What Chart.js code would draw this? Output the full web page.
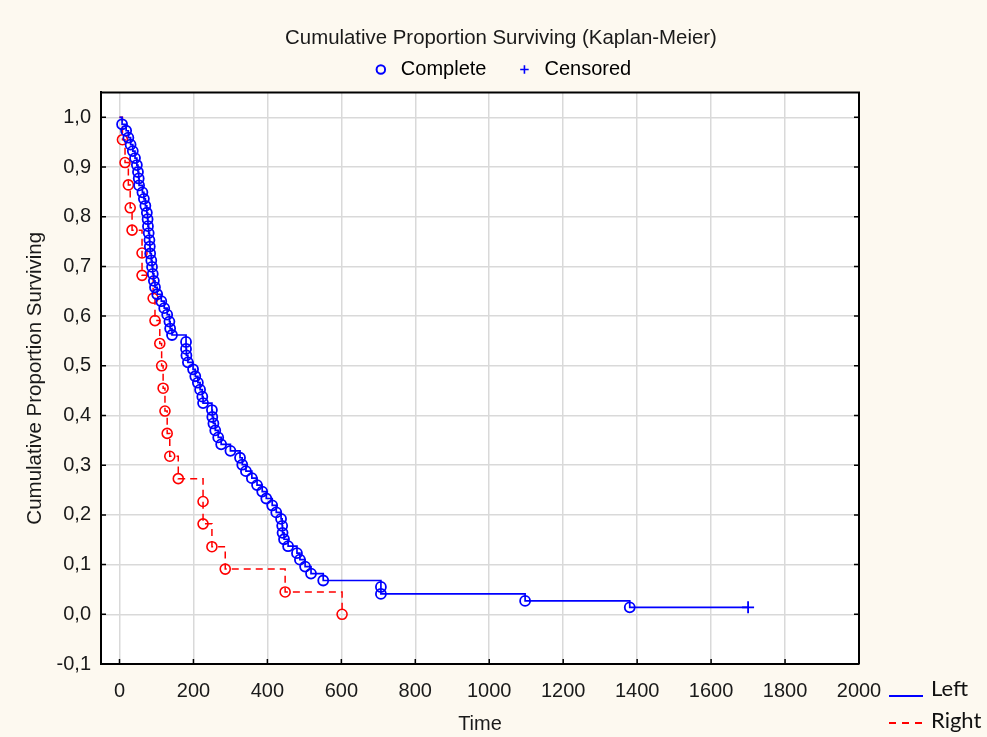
<!DOCTYPE html>
<html>
<head>
<meta charset="utf-8">
<title>Kaplan-Meier</title>
<script src="https://cdn.jsdelivr.net/npm/chart.js@4.4.1/dist/chart.umd.min.js"></script>
<style>
  html, body { margin: 0; padding: 0; background: #fdf9f0; }
</style>
</head>
<body>
<canvas id="km-chart" width="987" height="737"></canvas>
<script>
// survival times (first entry = start of the curve)
var leftTimes = [0, 7, 18, 24, 30, 36, 42, 47, 50, 52, 53, 62, 66, 70, 74, 76, 77, 79, 81, 82, 83,
  86, 88, 90, 93, 96, 102, 113, 121, 129, 135, 137, 142, 180, 180, 181, 185, 199, 205, 212, 218,
  224, 226, 250, 251, 254, 259, 267, 275, 300, 326, 332, 342, 358, 372, 386, 397, 413, 424, 437,
  440, 441, 445, 456, 480, 488, 502, 518, 551, 707, 707, 1097, 1380];
var leftSurv = [1.000, 0.986, 0.973, 0.959, 0.945, 0.932, 0.918, 0.904, 0.890, 0.877, 0.863, 0.849,
  0.836, 0.822, 0.808, 0.795, 0.781, 0.767, 0.753, 0.740, 0.726, 0.712, 0.699, 0.685, 0.671, 0.658,
  0.644, 0.630, 0.616, 0.603, 0.589, 0.575, 0.562, 0.548, 0.534, 0.521, 0.507, 0.493, 0.479, 0.466,
  0.452, 0.438, 0.425, 0.411, 0.397, 0.384, 0.370, 0.356, 0.342, 0.329, 0.315, 0.301, 0.288, 0.274,
  0.260, 0.247, 0.233, 0.219, 0.205, 0.192, 0.178, 0.164, 0.151, 0.137, 0.123, 0.110, 0.096, 0.082,
  0.068, 0.055, 0.041, 0.027, 0.014];
var leftCensTimes = [1700];
var leftCensSurv = [0.014];

var rightTimes = [0, 8, 15, 24, 29, 34, 61, 61, 91, 96, 109, 114, 118, 123, 129, 136, 159, 226, 226,
  250, 286, 448, 602];
var rightSurv = [1.000, 0.955, 0.909, 0.864, 0.818, 0.773, 0.727, 0.682, 0.636, 0.591, 0.545, 0.500,
  0.455, 0.409, 0.364, 0.318, 0.273, 0.227, 0.182, 0.136, 0.091, 0.045, 0.000];

var seriesNames = ["Left", "Right"];
var markerNames = ["Complete", "Censored"];
var xTicks = [0, 200, 400, 600, 800, 1000, 1200, 1400, 1600, 1800, 2000];
var yTicks = [-0.1, 0, 0.1, 0.2, 0.3, 0.4, 0.5, 0.6, 0.7, 0.8, 0.9, 1.0];

var FONT = "'Liberation Sans', Arial, sans-serif";
var BLUE = "#0000ff";
var RED = "#ff0000";

function toPoints(ts, ss) {
  return ts.map(function (t, i) { return { x: t, y: ss[i] }; });
}

var leftData = toPoints(leftTimes, leftSurv).concat(toPoints(leftCensTimes, leftCensSurv));
var rightData = toPoints(rightTimes, rightSurv);
var nLeftEvents = leftTimes.length;

var framePlugin = {
  id: "frame",
  beforeDraw: function (chart) {
    var ctx = chart.ctx, a = chart.chartArea;
    ctx.save();
    ctx.fillStyle = "#fdf9f0";
    ctx.fillRect(0, 0, chart.width, chart.height);
    ctx.fillStyle = "#ffffff";
    ctx.fillRect(a.left, a.top, a.right - a.left, a.bottom - a.top);
    ctx.restore();
  },
  afterDraw: function (chart) {
    var ctx = chart.ctx, a = chart.chartArea;
    var xs = chart.scales.x, ys = chart.scales.y;
    ctx.save();
    // top + right frame
    ctx.strokeStyle = "#000";
    ctx.lineWidth = 2;
    ctx.beginPath();
    ctx.moveTo(a.left, a.top);
    ctx.lineTo(a.right, a.top);
    ctx.lineTo(a.right, a.bottom);
    ctx.stroke();
    // inner tick marks
    ctx.lineWidth = 1.5;
    ctx.beginPath();
    xs.ticks.forEach(function (t) {
      var px = xs.getPixelForValue(t.value);
      ctx.moveTo(px, a.bottom);
      ctx.lineTo(px, a.bottom - 5);
    });
    ys.ticks.forEach(function (t) {
      var py = ys.getPixelForValue(t.value);
      ctx.moveTo(a.left, py);
      ctx.lineTo(a.left + 5, py);
      ctx.moveTo(a.right, py);
      ctx.lineTo(a.right - 5, py);
    });
    ctx.stroke();

    // Left / Right line legend, bottom right
    var lx = a.right + 30;
    ctx.font = "22px Lato";
    ctx.fillStyle = "#111";
    ctx.textBaseline = "alphabetic";
    ctx.lineWidth = 2;
    ctx.strokeStyle = BLUE;
    ctx.beginPath();
    ctx.moveTo(lx, a.bottom + 32);
    ctx.lineTo(lx + 34, a.bottom + 32);
    ctx.stroke();
    ctx.fillText(seriesNames[0], lx + 42, a.bottom + 32);
    ctx.strokeStyle = RED;
    ctx.setLineDash([7, 6]);
    ctx.beginPath();
    ctx.moveTo(lx, a.bottom + 59);
    ctx.lineTo(lx + 34, a.bottom + 59);
    ctx.stroke();
    ctx.fillText(seriesNames[1], lx + 42, a.bottom + 64);
    ctx.restore();
  }
};

new Chart(document.getElementById("km-chart"), {
  type: "line",
  data: {
    datasets: [{
      label: seriesNames[0],
      data: leftData,
      stepped: true,
      borderColor: BLUE,
      borderWidth: 1.7,
      fill: false,
      pointStyle: function (c) { return c.dataIndex >= nLeftEvents ? "cross" : "circle"; },
      pointRadius: function (c) {
        if (c.dataIndex === 0) return 0;
        return c.dataIndex >= nLeftEvents ? 6 : 5;
      },
      pointBorderColor: BLUE,
      pointBackgroundColor: "rgba(0,0,0,0)",
      pointBorderWidth: 1.8
    }, {
      label: seriesNames[1],
      data: rightData,
      stepped: true,
      borderColor: RED,
      borderWidth: 1.5,
      borderDash: [7, 5],
      fill: false,
      pointStyle: "circle",
      pointRadius: function (c) { return c.dataIndex === 0 ? 0 : 5; },
      pointBorderColor: RED,
      pointBackgroundColor: "rgba(0,0,0,0)",
      pointBorderWidth: 1.6
    }]
  },
  options: {
    responsive: false,
    animation: false,
    layout: { padding: { left: 15, right: 0, top: 0, bottom: 0 } },
    plugins: {
      title: {
        display: true,
        text: "Cumulative Proportion Surviving (Kaplan-Meier)",
        color: "#1a1a1a",
        font: { family: FONT, size: 20.4, weight: "normal" },
        padding: { top: 26, bottom: -19 }
      },
      legend: {
        display: true,
        position: "top",
        onClick: null,
        labels: {
          usePointStyle: true,
          boxHeight: 6,
          boxWidth: 20,
          padding: 28,
          color: "#1a1a1a",
          font: { family: FONT, size: 20 },
          generateLabels: function () {
            return [
              { text: markerNames[0], pointStyle: "circle", strokeStyle: BLUE, fillStyle: "rgba(0,0,0,0)", lineWidth: 2, hidden: false },
              { text: markerNames[1], pointStyle: "cross", strokeStyle: BLUE, fillStyle: BLUE, lineWidth: 1.6, hidden: false }
            ];
          }
        }
      },
      tooltip: { enabled: false }
    },
    scales: {
      x: {
        type: "linear",
        min: -50,
        max: 2000,
        afterBuildTicks: function (s) { s.ticks = xTicks.map(function (v) { return { value: v }; }); },
        afterFit: function (s) { s.height = 73; },
        grid: { color: "#d9d9d9", lineWidth: 1.5, drawTicks: false },
        border: { color: "#000", width: 2 },
        ticks: {
          padding: 15,
          color: "#1a1a1a",
          font: { family: FONT, size: 20 },
          maxRotation: 0,
          callback: function (v) { return String(v); }
        },
        title: {
          display: true,
          text: "Time",
          color: "#1a1a1a",
          font: { family: FONT, size: 20 },
          padding: { top: 0, bottom: 1 }
        }
      },
      y: {
        type: "linear",
        min: -0.1,
        max: 1.05,
        afterBuildTicks: function (s) { s.ticks = yTicks.map(function (v) { return { value: v }; }); },
        afterFit: function (s) { s.width = 86; },
        grid: { color: "#d9d9d9", lineWidth: 1.5, drawTicks: false },
        border: { color: "#000", width: 2 },
        ticks: {
          padding: 10,
          color: "#1a1a1a",
          font: { family: FONT, size: 20 },
          callback: function (v) {
            if (Math.abs(v) < 1e-9) v = 0;
            return v.toFixed(1).replace(".", ",");
          }
        },
        title: {
          display: true,
          text: "Cumulative Proportion Surviving",
          color: "#1a1a1a",
          font: { family: FONT, size: 20.5 },
          padding: { top: 8, bottom: 0 }
        }
      },
      // empty boxes that only reserve space around the plot
      xTop: {
        type: "linear",
        position: "top",
        display: true,
        grid: { display: false },
        border: { display: false },
        ticks: { display: false },
        afterFit: function (s) { s.height = 3; }
      },
      yRight: {
        type: "linear",
        position: "right",
        display: true,
        grid: { display: false },
        border: { display: false },
        ticks: { display: false },
        afterFit: function (s) { s.width = 128; }
      }
    }
  },
  plugins: [framePlugin]
});
</script>
</body>
</html>
